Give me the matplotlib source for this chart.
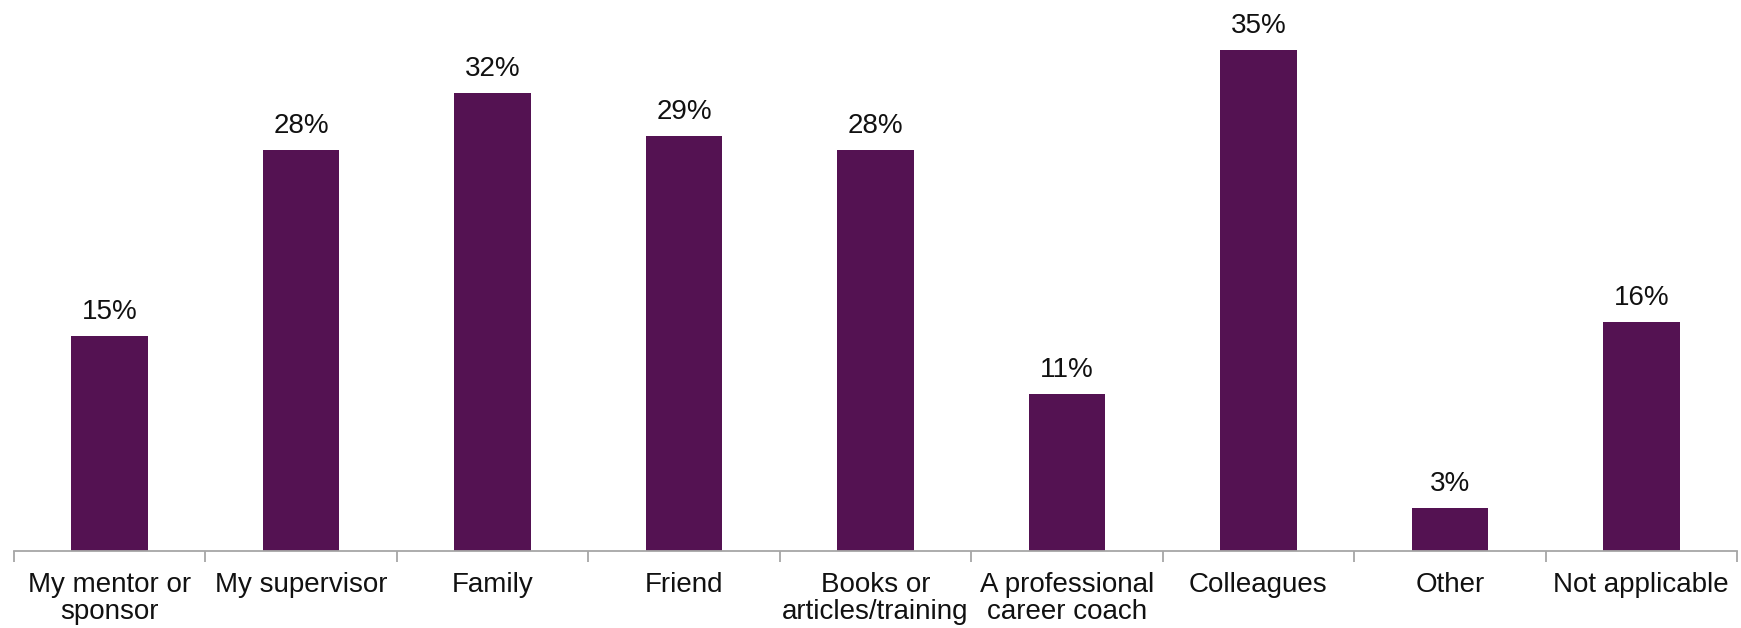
import matplotlib.pyplot as plt
import numpy as np

categories = ["My mentor or\nsponsor", "My supervisor", "Family", "Friend",
              "Books or\narticles/training", "A professional\ncareer coach",
              "Colleagues", "Other", "Not applicable"]
values = [15, 28, 32, 29, 28, 11, 35, 3, 16]

plt.rcParams['font.family'] = ['Liberation Sans', 'DejaVu Sans']

fig = plt.figure(figsize=(17.41, 6.28), dpi=100)
ax = fig.add_axes([14 / 1741, 77 / 628, 1723 / 1741, 544 / 628])

x = np.arange(len(values))
bars = ax.bar(x, values, width=0.4, color="#541252")

ax.set_xlim(-0.5, len(values) - 0.5)
ax.set_ylim(0, 38)

for rect, v in zip(bars, values):
    ax.annotate(f"{v}%", (rect.get_x() + rect.get_width() / 2, v),
                xytext=(0, 11), textcoords="offset pixels",
                ha="center", va="bottom", fontsize=20, color="#111111")

for side in ["top", "right", "left"]:
    ax.spines[side].set_visible(False)
ax.spines["bottom"].set_color("#a6a6a6")
ax.spines["bottom"].set_linewidth(1.3)
ax.set_yticks([])

# boundary ticks between categories, labels centred under each bar
ax.set_xticks(np.arange(len(values) + 1) - 0.5)
ax.set_xticklabels([])
ax.tick_params(axis="x", which="major", length=8, width=1.3, color="#a6a6a6")
ax.set_xticks(x, minor=True)
ax.set_xticklabels(categories, minor=True, fontsize=20, color="#111111",
                   linespacing=1.05, va="top")
ax.tick_params(axis="x", which="minor", length=0, pad=15)

fig.savefig("out.png", dpi=100)
